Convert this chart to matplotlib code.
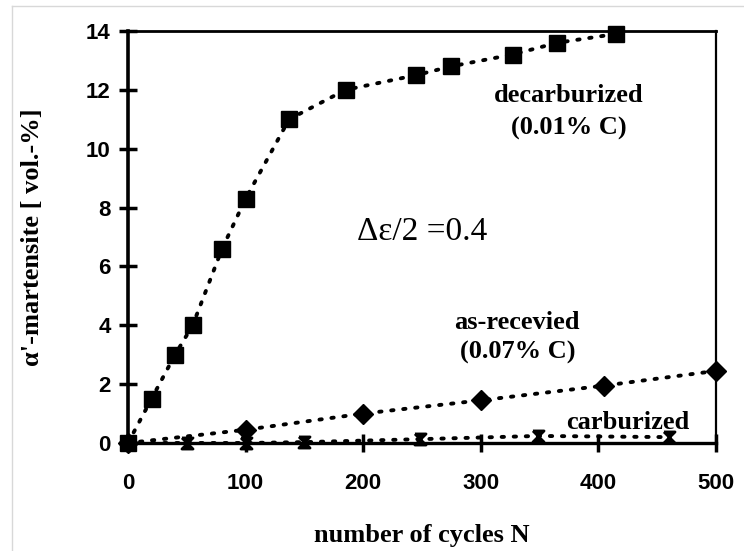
import numpy as np
import matplotlib
matplotlib.use('Agg')
from matplotlib import pyplot as plt
from matplotlib.path import Path
from matplotlib.lines import Line2D

# decarburized (0.01% C)
decarb_n = [0, 20, 40, 55, 80, 100, 137, 185, 245, 275, 327, 365, 415]
decarb_m = [0, 1.5, 3.0, 4.0, 6.6, 8.3, 11.0, 12.0, 12.5, 12.8, 13.2, 13.6, 13.9]

# as-received (0.07% C)
asrec_n = [0, 100, 200, 300, 405, 500]
asrec_m = [0, 0.45, 1.0, 1.45, 1.95, 2.45]

# carburized
carb_n = [0, 50, 100, 150, 248, 349, 460]
carb_m = [0, 0, 0, 0.03, 0.13, 0.24, 0.2]

xticks = [0, 100, 200, 300, 400, 500]
yticks = [0, 2, 4, 6, 8, 10, 12, 14]

serif = 'Liberation Serif'
sans = 'Liberation Sans'

# hourglass-like cross marker
hg = Path([(-1, 1), (1, 1), (-1, -1), (1, -1), (-1, 1)],
          [Path.MOVETO, Path.LINETO, Path.LINETO, Path.LINETO, Path.LINETO])

fig = plt.figure(figsize=(7.44, 5.51), dpi=100)
ax = fig.add_axes([128/744, 1-443/551, 588/744, 412/551])

dots = (0, (0.6, 2.5))
ax.plot(decarb_n, decarb_m, color='black', lw=2.8, ls=dots, dash_capstyle='round',
        marker='s', ms=11, mfc='black', mec='black', clip_on=False, zorder=3)
ax.plot(asrec_n, asrec_m, color='black', lw=2.8, ls=dots, dash_capstyle='round',
        marker='D', ms=10, mfc='black', mec='black', clip_on=False, zorder=3)
ax.plot(carb_n, carb_m, color='black', lw=2.8, ls=dots, dash_capstyle='round',
        marker=hg, ms=8, mfc='black', mec='black', mew=2, clip_on=False, zorder=4)

ax.set_xlim(0, 500)
ax.set_ylim(0, 14)
ax.set_xticks(xticks)
ax.set_yticks(yticks)
ax.set_xticklabels([str(v) for v in xticks], fontfamily=sans, fontweight='bold', fontsize=16)
ax.set_yticklabels([str(v) for v in yticks], fontfamily=sans, fontweight='bold', fontsize=16)
ax.tick_params(axis='both', direction='inout', length=13, width=2.5, color='black')
ax.tick_params(axis='x', pad=15)
ax.tick_params(axis='y', pad=6)

ax.spines['left'].set_linewidth(2.6)
ax.spines['bottom'].set_linewidth(2.4)
ax.spines['top'].set_linewidth(2.0)
ax.spines['right'].set_linewidth(1.6)

ax.set_xlabel('number of cycles N', fontfamily=serif, fontweight='bold', fontsize=19, labelpad=22)
ax.set_ylabel("α'-martensite [ vol.-%]", fontfamily=serif, fontweight='bold', fontsize=19, labelpad=30)

bold = dict(fontfamily=serif, fontweight='bold', fontsize=19, ha='center', va='center')
ax.text(375, 11.82, 'decarburized', **bold)
ax.text(375, 10.70, '(0.01% C)', **bold)
ax.text(250, 7.17, 'Δε/2 =0.4', fontfamily=serif, fontsize=24, ha='center', va='center')
ax.text(331, 4.08, 'as-recevied', **bold)
ax.text(331, 3.09, '(0.07% C)', **bold)
ax.text(425, 0.68, 'carburized', **bold)

# faint scan border
fig.add_artist(Line2D([12/744, 1], [1-6/551, 1-6/551], color='#d8d8d8', lw=1))
fig.add_artist(Line2D([12/744, 12/744], [0, 1-6/551], color='#d8d8d8', lw=1))

fig.savefig('out.png', dpi=100)
